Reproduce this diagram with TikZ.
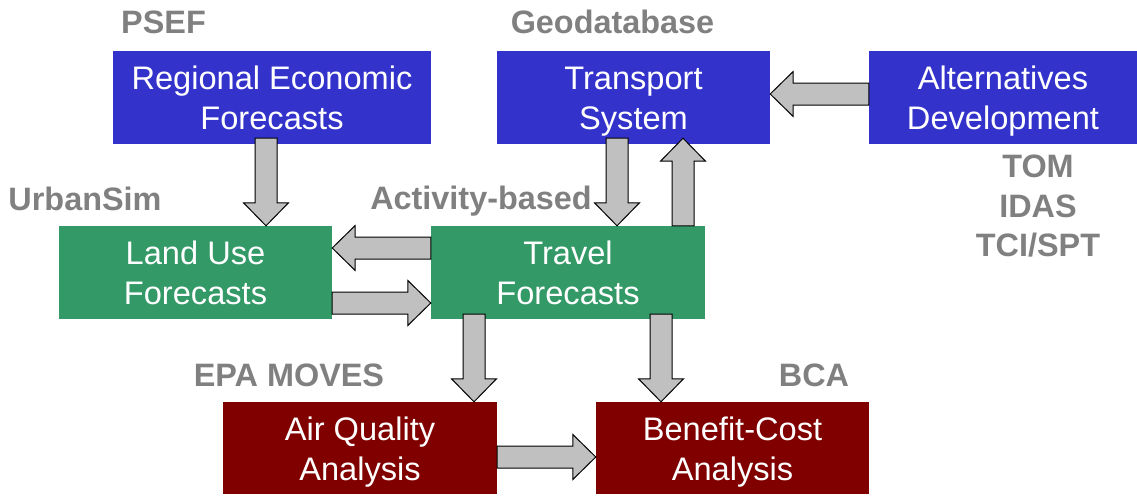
\documentclass[tikz,border=0pt]{standalone}
\usepackage{fontspec}
\setmainfont{Liberation Sans}
\usetikzlibrary{calc}
\definecolor{bluebox}{HTML}{3333CC}
\definecolor{greenbox}{HTML}{339966}
\definecolor{redbox}{HTML}{800000}
\definecolor{arrowgray}{HTML}{C0C0C0}
\definecolor{labelgray}{HTML}{808080}
\newcommand\bxs{\rule[-7pt]{0pt}{38pt}}
\newcommand\barrow[2]{%
  \coordinate (ba-h) at ($(#2)!23pt!(#1)$);
  \draw[blockarrow] ($(#1)!11pt!90:(#2)$) -- ($(ba-h)!11pt!90:(#2)$) -- ($(ba-h)!22.5pt!90:(#2)$) -- (#2)
    -- ($(ba-h)!22.5pt!-90:(#2)$) -- ($(ba-h)!11pt!-90:(#2)$) -- ($(#1)!11pt!-90:(#2)$) -- cycle;}
\tikzset{
  box/.style={inner sep=0pt, text=white, align=center, font=\fontsize{32.6}{40}\selectfont},
  bluebx/.style={box, fill=bluebox, minimum height=93pt},
  greenbx/.style={box, fill=greenbox, minimum height=93pt},
  redbx/.style={box, fill=redbox, minimum height=92pt},
  lbl/.style={inner sep=0pt, anchor=base, text=labelgray, font=\fontsize{32.4}{38}\selectfont\bfseries},
  blockarrow/.style={draw=black, fill=arrowgray, line width=1pt, line join=miter},
}
\begin{document}
\begin{tikzpicture}[x=1pt,y=-1pt]
\useasboundingbox (0,0) rectangle (1137,495);
% boxes
\node[bluebx, minimum width=318pt] (ref) at (272,97.5) {\bxs Regional Economic\\Forecasts\bxs};
\node[bluebx, minimum width=273pt] (ts) at (633.5,97.5) {\bxs Transport\\System\bxs};
\node[bluebx, minimum width=268pt] (alt) at (1003,97.5) {\bxs Alternatives\\Development\bxs};
\node[greenbx, minimum width=273pt] (lu) at (195.5,272.5) {\bxs Land Use\\Forecasts\bxs};
\node[greenbx, minimum width=274pt] (tf) at (568,272.5) {\bxs Travel\\Forecasts\bxs};
\node[redbx, minimum width=274pt] (aq) at (360,448) {\bxs Air Quality\\Analysis\bxs};
\node[redbx, minimum width=273pt] (bca) at (732.5,448) {\bxs Benefit-Cost\\Analysis\bxs};
% labels
\node[lbl] (psef) at (163.5,34) {PSEF};
\node[lbl] (geo) at (612.5,34) {Geodatabase};
\node[lbl] (urb) at (85,210) {UrbanSim};
\node[lbl] (act) at (481,209) {Activity-based};
\node[lbl] (epa) at (289,386) {EPA MOVES};
\node[lbl] (bcal) at (814,386) {BCA};
\node[lbl] (tom) at (1038,177) {TOM};
\node[lbl] (idas) at (1038,217) {IDAS};
\node[lbl] (tci) at (1038,256) {TCI/SPT};
% arrow end points
\coordinate (a1s) at ([xshift=-6pt,yshift=6pt]ref.south);
\coordinate (a1e) at (a1s |- lu.north);
\coordinate (a2s) at ([xshift=-16.5pt,yshift=6pt]ts.south);
\coordinate (a2e) at (a2s |- tf.north);
\coordinate (a3s) at ([xshift=115pt]tf.north);
\coordinate (a3e) at ([yshift=6pt]a3s |- ts.south);
\coordinate (a4s) at ([yshift=3.5pt]alt.west);
\coordinate (a4e) at (a4s -| ts.east);
\coordinate (a5s) at ([yshift=24.5pt]tf.west);
\coordinate (a5e) at (a5s -| lu.east);
\coordinate (a6s) at ([yshift=-30.5pt]lu.east);
\coordinate (a6e) at (a6s -| tf.west);
\coordinate (a7s) at ([xshift=-94pt,yshift=5pt]tf.south);
\coordinate (a7e) at (a7s |- aq.north);
\coordinate (a8s) at ([xshift=93pt,yshift=5pt]tf.south);
\coordinate (a8e) at (a8s |- bca.north);
\coordinate (a9s) at ([yshift=-9pt]aq.east);
\coordinate (a9e) at (a9s -| bca.west);
% arrows
\barrow{a1s}{a1e}
\barrow{a2s}{a2e}
\barrow{a3s}{a3e}
\barrow{a4s}{a4e}
\barrow{a5s}{a5e}
\barrow{a6s}{a6e}
\barrow{a7s}{a7e}
\barrow{a8s}{a8e}
\barrow{a9s}{a9e}
\end{tikzpicture}
\end{document}
